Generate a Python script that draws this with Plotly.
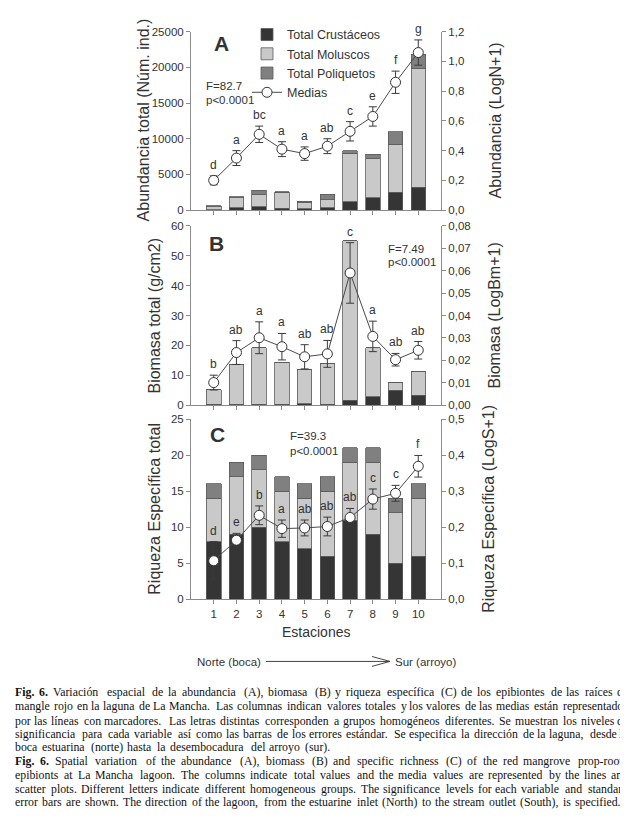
import plotly.graph_objects as go

W, H = 628, 824

stations = [1, 2, 3, 4, 5, 6, 7, 8, 9, 10]
tick_labels = ["1", "2", "3", "4", "5", "6", "7", "8", "9", "10"]

# Panel A - abundance
abund_crust = [50, 300, 500, 250, 200, 350, 1200, 1700, 2500, 3200]
abund_mol = [450, 1400, 1650, 2250, 800, 1100, 6750, 5500, 6700, 16600]
abund_poli = [100, 200, 600, 80, 250, 800, 350, 650, 1750, 2050]
abund_mean = [0.20, 0.35, 0.51, 0.41, 0.38, 0.43, 0.53, 0.63, 0.86, 1.06]
abund_err = [0.03, 0.05, 0.055, 0.05, 0.045, 0.05, 0.065, 0.065, 0.075, 0.085]
abund_letters = ["d", "a", "bc", "a", "a", "ab", "c", "e", "f", "g"]

# Panel B - biomass
bio_crust = [0.3, 0.3, 0.3, 0.3, 0.5, 0.3, 1.7, 2.8, 5.0, 3.3]
bio_mol = [4.9, 13.2, 19.0, 14.0, 11.5, 13.8, 53.3, 16.5, 2.5, 8.1]
bio_poli = [0, 0, 0, 0, 0, 0, 0, 0, 0, 0]
bio_mean = [0.0101, 0.0235, 0.0301, 0.0261, 0.0216, 0.0229, 0.059, 0.0307, 0.0203, 0.0245]
bio_err = [0.0033, 0.0053, 0.0071, 0.0059, 0.0054, 0.006, 0.0135, 0.0068, 0.0028, 0.0039]
bio_letters = ["b", "ab", "a", "a", "ab", "ab", "c", "a", "ab", "ab"]

# Panel C - species richness
rich_crust = [8, 9, 10, 8, 7, 6, 11, 9, 5, 6]
rich_mol = [6, 8, 8, 7, 7, 9, 8, 10, 7, 8]
rich_poli = [2, 2, 2, 2, 2, 2, 2, 2, 2, 2]
rich_mean = [0.107, 0.164, 0.233, 0.196, 0.198, 0.202, 0.227, 0.278, 0.294, 0.369]
rich_err = [0.053, 0.019, 0.026, 0.024, 0.022, 0.026, 0.025, 0.028, 0.022, 0.03]
rich_letters = ["d", "e", "b", "a", "ab", "ab", "ab", "c", "c", "f"]

caption_lines = [
    "Fig. 6. Variación espacial de la abundancia (A), biomasa (B) y riqueza específica (C) de los epibiontes de las raíces de",
    "mangle rojo en la laguna de La Mancha. Las columnas indican valores totales y los valores de las medias están representados",
    "por las líneas con marcadores. Las letras distintas corresponden a grupos homogéneos diferentes. Se muestran los niveles de",
    "significancia para cada variable así como las barras de los errores estándar. Se especifica la dirección de la laguna, desde la",
    "boca estuarina (norte) hasta la desembocadura del arroyo (sur).",
    "Fig. 6. Spatial variation of the abundance (A), biomass (B) and specific richness (C) of the red mangrove prop-roots",
    "epibionts at La Mancha lagoon. The columns indicate total values and the media values are represented by the lines and",
    "scatter plots. Different letters indicate different homogeneous groups. The significance levels for each variable and standard",
    "error bars are shown. The direction of the lagoon, from the estuarine inlet (North) to the stream outlet (South), is specified.",
]
caption_last_line = [False, False, False, False, True, False, False, False, True]

C_CRUST = "#353535"
C_MOL = "#c9c9c9"
C_POLI = "#808080"
EDGE = "#5a5a5a"
TXT = "#333333"
SANS = "Liberation Sans, Arial, sans-serif"
SERIF = "Liberation Serif, Times New Roman, serif"


def px_x(v):
    return v / W


def px_y(v):
    return 1 - v / H


fig = go.Figure()

panels = [
    dict(crust=abund_crust, mol=abund_mol, poli=abund_poli, mean=abund_mean,
         err=abund_err, letters=abund_letters, xa="x", ya="y", ya2="y2"),
    dict(crust=bio_crust, mol=bio_mol, poli=bio_poli, mean=bio_mean,
         err=bio_err, letters=bio_letters, xa="x2", ya="y3", ya2="y4"),
    dict(crust=rich_crust, mol=rich_mol, poli=rich_poli, mean=rich_mean,
         err=rich_err, letters=rich_letters, xa="x3", ya="y5", ya2="y6"),
]

annotations = []
for i, p in enumerate(panels):
    show = i == 0
    for name, vals, col in [("Total Crustáceos", p["crust"], C_CRUST),
                            ("Total Moluscos", p["mol"], C_MOL),
                            ("Total Poliquetos", p["poli"], C_POLI)]:
        fig.add_trace(go.Bar(
            x=stations, y=vals, name=name, xaxis=p["xa"], yaxis=p["ya"],
            marker=dict(color=col, line=dict(color=EDGE, width=0.8)),
            width=0.64, showlegend=show, legendgroup=name))
    fig.add_trace(go.Scatter(
        x=stations, y=p["mean"], name="Medias", xaxis=p["xa"], yaxis=p["ya2"],
        mode="lines+markers",
        line=dict(color="#4a4a4a", width=1),
        marker=dict(symbol="circle", size=10, color="white",
                    line=dict(color="#333333", width=1)),
        error_y=dict(type="data", array=p["err"], visible=True,
                     color="#3a3a3a", thickness=1, width=4),
        showlegend=show, legendgroup="Medias"))
    for s, m, e, t in zip(stations, p["mean"], p["err"], p["letters"]):
        annotations.append(dict(
            x=s, y=m + e, xref=p["xa"], yref=p["ya2"], text=t,
            showarrow=False, yanchor="bottom", yshift=2,
            font=dict(family=SANS, size=12, color=TXT)))

# panel geometry in pixels
x0, x1 = 183, 433
rows = [(18, 199), (215, 397), (411, 594)]

axis_common = dict(showline=True, linecolor="#8a8a8a", linewidth=1,
                   ticks="outside", ticklen=4, tickcolor="#8a8a8a",
                   showgrid=False, zeroline=False,
                   tickfont=dict(family=SANS, size=11.5, color=TXT))

layout = dict(
    width=W, height=H, margin=dict(l=0, r=0, t=0, b=0),
    paper_bgcolor="white", plot_bgcolor="white",
    barmode="stack", separators=",.",
    font=dict(family=SANS, color=TXT),
    showlegend=True,
    legend=dict(x=px_x(239), y=px_y(6), xanchor="left", yanchor="top",
                traceorder="normal", bgcolor="rgba(0,0,0,0)",
                font=dict(family=SANS, size=12.5, color=TXT),
                itemwidth=30, tracegroupgap=0),
)

yranges = [([0, 25000], 5000, "d", [0, 1.2], 0.2, ".1f"),
           ([0, 60], 10, "d", [0, 0.08], 0.01, ".2f"),
           ([0, 25], 5, "d", [0, 0.5], 0.1, ".1f")]

for i, ((top, bot), (r1, d1, f1, r2, d2, f2)) in enumerate(zip(rows, yranges)):
    xi = "" if i == 0 else str(i + 1)
    yl = "" if i == 0 else str(2 * i + 1)
    yr = str(2 * i + 2)
    layout["xaxis" + xi] = dict(
        axis_common, domain=[px_x(x0), px_x(x1)], range=[0, 11],
        anchor="y" + yl, tickmode="array", tickvals=stations,
        ticktext=tick_labels, showticklabels=(i == 2))
    layout["yaxis" + yl] = dict(
        axis_common, domain=[px_y(bot), px_y(top)], range=r1, dtick=d1,
        tickformat=f1, anchor="x" + xi, side="left")
    layout["yaxis" + yr] = dict(
        axis_common, range=r2, dtick=d2, tickformat=f2,
        anchor="x" + xi, overlaying="y" + yl, side="right")

fig.update_layout(**layout)


def txt(x, y, s, size=12, bold=False, angle=0, xanchor="center", family=SANS,
        color=TXT, yanchor="middle", align="left"):
    if bold:
        s = "<b>" + s + "</b>"
    return dict(x=px_x(x), y=px_y(y), xref="paper", yref="paper", text=s,
                showarrow=False, textangle=angle, xanchor=xanchor,
                yanchor=yanchor, align=align,
                font=dict(family=family, size=size, color=color))


# panel letters
annotations += [txt(213, 30, "A", 21, True), txt(208, 233, "B", 21, True),
                txt(209, 427, "C", 21, True)]
# stats
annotations += [
    txt(196, 73, "F=82.7", 11.5, xanchor="left"),
    txt(196, 87, "p<0.0001", 11.5, xanchor="left"),
    txt(378, 238, "F=7.49", 11.5, xanchor="left"),
    txt(378, 252, "p<0.0001", 11.5, xanchor="left"),
    txt(280, 428, "F=39.3", 11.5, xanchor="left"),
    txt(280, 443, "p<0.0001", 11.5, xanchor="left"),
]
# axis titles
annotations += [
    txt(135, 108, "Abundancia total (Núm. ind.)", 16, angle=-90),
    txt(147, 306, "Biomasa total (g/cm2)", 16, angle=-90),
    txt(147, 502, "Riqueza Específica total", 16, angle=-90),
    txt(487, 108, "Abundancia (LogN+1)", 16, angle=-90),
    txt(487, 306, "Biomasa (LogBm+1)", 16, angle=-90),
    txt(481, 502, "Riqueza Específica (LogS+1)", 16, angle=-90),
    txt(308, 627, "Estaciones", 14),
]
# direction
annotations += [
    txt(221, 658, "Norte (boca)", 11.5),
    txt(418, 658, "Sur (arroyo)", 11.5),
]

# ---- justified caption (Times metrics, 1/1000 em) ----
TW = {" ": 250, ".": 250, ",": 250, "(": 333, ")": 333, "-": 333, ":": 278,
      ";": 278}
for c in "abdghknopquvxy":
    TW[c] = 500
for c in "cez":
    TW[c] = 444
for c in "ijlt":
    TW[c] = 278
TW.update({"f": 333, "r": 333, "s": 389, "m": 778, "w": 722})
TW.update({"A": 722, "B": 667, "C": 667, "D": 722, "E": 611, "F": 556,
           "G": 722, "H": 722, "I": 333, "J": 389, "K": 722, "L": 611,
           "M": 889, "N": 722, "O": 722, "P": 556, "Q": 722, "R": 667,
           "S": 556, "T": 611, "U": 722, "V": 722, "W": 944, "X": 722,
           "Y": 722, "Z": 611})
for c in "0123456789":
    TW[c] = 500
TW.update({"á": 444, "é": 444, "í": 278, "ó": 500, "ú": 500, "ñ": 500})
TWB = {"F": 611, "i": 278, "g": 500, ".": 250, "6": 500}
K_RENDER = 1.045  # rendered glyphs come out a bit wider than nominal metrics


def wunits(word, bold=False):
    tab = TWB if bold else TW
    return K_RENDER * sum(tab.get(c, TW.get(c, 500)) for c in word)


cap_left, cap_right = 6, 621
cap_width = cap_right - cap_left
cap_y = [688, 702, 717, 731, 744, 758, 772, 786, 800]

line_words = []
for li, line in enumerate(caption_lines):
    words = line.split(" ")
    bolds = [(li in (0, 5)) and wi < 2 for wi in range(len(words))]
    line_words.append((words, bolds))

# font size so that the tightest justified line fits with >=0.2em spaces
fs = 12.0
for (words, bolds), last in zip(line_words, caption_last_line):
    if last:
        continue
    units = sum(wunits(w, b) for w, b in zip(words, bolds)) + 200 * (len(words) - 1)
    fs = min(fs, cap_width * 1000 / units)

for (words, bolds), last, yy in zip(line_words, caption_last_line, cap_y):
    widths = [wunits(w, b) * fs / 1000 for w, b in zip(words, bolds)]
    if last:
        gap = 250 * fs / 1000
    else:
        gap = (cap_width - sum(widths)) / (len(words) - 1)
    xpos = cap_left
    n = len(words)
    for k, (w, b, wd) in enumerate(zip(words, bolds, widths)):
        t = "<b>" + w + "</b>" if b else w
        if (not last) and k == n - 1:
            xa, xx = "right", cap_right
        else:
            xa, xx = "left", xpos
        annotations.append(dict(
            x=px_x(xx), y=px_y(yy), xref="paper", yref="paper", text=t,
            showarrow=False, xanchor=xa, yanchor="middle",
            borderpad=0, font=dict(family=SERIF, size=fs, color="#111111")))
        xpos += wd + gap

shapes = [
    dict(type="line", xref="paper", yref="paper", x0=px_x(258), y0=px_y(657),
         x1=px_x(382), y1=px_y(657), line=dict(color="#444444", width=1)),
    dict(type="line", xref="paper", yref="paper", x0=px_x(364), y0=px_y(652),
         x1=px_x(382), y1=px_y(657), line=dict(color="#444444", width=1)),
    dict(type="line", xref="paper", yref="paper", x0=px_x(364), y0=px_y(662),
         x1=px_x(382), y1=px_y(657), line=dict(color="#444444", width=1)),
]

fig.update_layout(annotations=annotations, shapes=shapes)
fig.write_html("out.html")
